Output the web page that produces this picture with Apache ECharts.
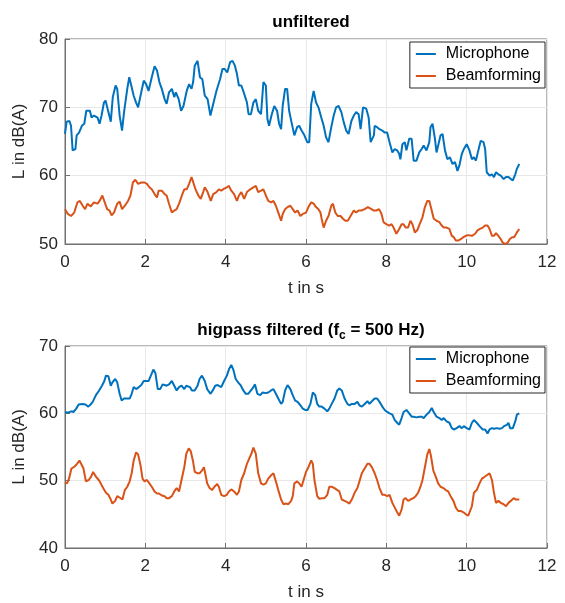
<!DOCTYPE html>
<html>
<head>
<meta charset="UTF-8">
<title>unfiltered-vs-highpass</title>
<script src="https://cdn.jsdelivr.net/npm/echarts@6/dist/echarts.min.js"></script>
<style type="text/css">
html, body { margin: 0; padding: 0; background: #fff; }
#main { width: 565px; height: 603px; }
</style>
</head>
<body>
<div id="main"></div>
<script type="text/javascript">
// x ticks
var xTicks = [0, 2, 4, 6, 8, 10, 12];

// unfiltered, microphone [t in s, L in dB(A)]
var micTop = [[0,66.1],[0.04,67.9],[0.11,68.0],[0.15,67.3],[0.19,63.7],[0.26,63.9],[0.29,65.9],[0.35,66.3],[0.42,67.3],[0.48,67.6],
[0.53,69.5],[0.62,69.5],[0.66,68.5],[0.72,68.8],[0.81,68.5],[0.86,67.6],[0.91,68.8],[0.97,70.7],[1.01,71.0],[1.08,69.3],
[1.14,67.9],[1.19,71.5],[1.26,73.2],[1.30,72.7],[1.36,68.8],[1.42,66.6],[1.47,69.3],[1.55,72.7],[1.60,74.4],[1.65,73.2],
[1.71,71.7],[1.77,70.7],[1.82,70.0],[1.88,71.7],[1.96,73.9],[2.02,73.4],[2.08,72.4],[2.16,74.4],[2.23,76.0],[2.29,75.4],
[2.35,73.7],[2.41,72.7],[2.48,71.2],[2.53,70.5],[2.59,72.2],[2.66,72.7],[2.72,71.5],[2.76,72.2],[2.83,71.2],[2.89,69.5],
[2.95,70.2],[3.03,72.4],[3.09,73.4],[3.15,72.7],[3.19,73.7],[3.23,76.1],[3.30,76.8],[3.36,74.4],[3.42,74.1],[3.48,71.7],
[3.55,71.2],[3.62,68.8],[3.69,70.5],[3.77,72.4],[3.86,74.1],[3.92,75.6],[3.98,75.6],[4.04,75.1],[4.11,76.6],[4.17,76.8],
[4.23,76.1],[4.28,74.9],[4.33,73.2],[4.39,73.2],[4.46,72.0],[4.53,70.7],[4.57,69.0],[4.63,69.0],[4.69,70.7],[4.75,71.2],
[4.81,69.5],[4.88,69.0],[4.94,73.7],[5.0,73.2],[5.04,68.3],[5.08,67.3],[5.14,68.8],[5.21,70.2],[5.28,69.5],[5.33,67.6],
[5.38,66.8],[5.42,70.2],[5.48,72.7],[5.53,72.7],[5.58,69.5],[5.64,67.8],[5.71,65.9],[5.78,67.1],[5.83,67.3],[5.89,66.6],
[5.96,65.9],[6.03,64.9],[6.08,64.9],[6.13,70.5],[6.19,72.4],[6.25,70.7],[6.31,70.0],[6.38,68.5],[6.44,67.3],[6.5,65.6],
[6.56,64.9],[6.63,67.1],[6.69,68.8],[6.75,70.0],[6.81,70.2],[6.88,69.3],[6.94,67.8],[7.0,66.6],[7.06,66.1],[7.13,68.0],
[7.19,68.8],[7.25,69.3],[7.31,69.0],[7.36,66.8],[7.42,70.0],[7.5,69.8],[7.56,68.5],[7.61,64.9],[7.69,65.9],[7.71,67.3],
[7.77,67.1],[7.83,66.8],[7.9,66.6],[7.96,66.3],[8.02,66.3],[8.08,64.9],[8.15,63.4],[8.21,63.9],[8.27,63.7],[8.32,63.2],
[8.35,62.4],[8.4,64.6],[8.46,64.9],[8.5,63.7],[8.57,65.4],[8.63,65.4],[8.68,62.2],[8.75,62.2],[8.82,63.4],[8.88,63.9],
[8.93,64.4],[9.0,63.7],[9.07,64.9],[9.1,67.1],[9.15,67.6],[9.21,65.4],[9.25,63.4],[9.29,63.4],[9.35,65.9],[9.4,66.1],
[9.46,63.7],[9.52,62.4],[9.58,62.7],[9.65,61.7],[9.71,62.0],[9.77,60.7],[9.82,61.5],[9.88,63.2],[9.93,63.9],[10.0,64.6],
[10.07,63.7],[10.13,62.4],[10.18,62.7],[10.23,62.2],[10.29,63.7],[10.35,65.1],[10.42,64.9],[10.46,63.9],[10.5,60.5],[10.57,60.0],
[10.63,60.2],[10.68,59.8],[10.73,60.5],[10.79,60.2],[10.85,60.0],[10.92,59.5],[10.98,59.8],[11.04,59.8],[11.1,59.5],[11.15,59.3],
[11.21,60.2],[11.25,61.0],[11.31,61.7]];

// unfiltered, beamforming
var beamTop = [[0,55.1],[0.07,54.4],[0.15,54.1],[0.23,54.6],[0.31,56.1],[0.37,56.3],[0.44,55.6],[0.5,55.1],[0.56,55.9],[0.64,55.5],
[0.72,56.1],[0.81,55.9],[0.86,56.3],[0.93,57.1],[1.0,55.9],[1.05,55.1],[1.11,54.9],[1.16,54.2],[1.22,54.6],[1.3,55.9],
[1.36,56.2],[1.42,55.1],[1.49,55.6],[1.57,56.3],[1.63,57.1],[1.69,59.0],[1.75,59.4],[1.82,58.8],[1.9,59.0],[1.98,59.0],
[2.04,58.8],[2.1,58.3],[2.16,58.0],[2.23,57.3],[2.29,56.8],[2.33,57.8],[2.41,57.8],[2.48,57.3],[2.53,57.1],[2.59,55.9],
[2.66,54.6],[2.72,54.9],[2.78,55.1],[2.84,55.9],[2.91,57.1],[2.97,58.0],[3.03,58.0],[3.09,58.8],[3.15,59.8],[3.19,59.6],
[3.25,58.0],[3.32,57.1],[3.38,56.6],[3.44,57.6],[3.48,58.3],[3.55,57.6],[3.63,56.3],[3.69,57.3],[3.77,57.6],[3.83,58.0],
[3.89,57.8],[3.96,58.1],[4.03,58.3],[4.08,58.5],[4.14,57.8],[4.21,57.3],[4.28,56.3],[4.33,57.1],[4.39,57.6],[4.46,56.6],
[4.53,57.6],[4.61,58.0],[4.69,58.3],[4.75,58.5],[4.81,57.6],[4.88,57.8],[4.94,58.0],[5.0,57.1],[5.06,56.3],[5.13,56.1],
[5.19,56.3],[5.25,55.6],[5.31,54.6],[5.38,53.4],[5.42,54.4],[5.48,55.1],[5.54,55.4],[5.61,55.6],[5.67,55.1],[5.73,54.6],
[5.79,54.9],[5.86,54.1],[5.92,54.4],[6.0,54.6],[6.06,55.4],[6.13,56.1],[6.19,55.9],[6.25,55.4],[6.31,55.1],[6.36,54.6],
[6.39,53.7],[6.44,52.4],[6.5,53.4],[6.56,54.1],[6.63,55.6],[6.67,55.9],[6.73,54.6],[6.79,54.1],[6.86,54.1],[6.92,53.7],
[6.98,53.4],[7.04,53.4],[7.11,54.1],[7.19,54.9],[7.25,54.6],[7.31,54.9],[7.38,54.9],[7.46,55.1],[7.54,55.4],[7.63,55.1],
[7.69,54.9],[7.75,54.9],[7.82,55.1],[7.88,54.4],[7.93,53.2],[8.0,52.9],[8.07,52.7],[8.13,52.9],[8.18,52.4],[8.25,51.5],
[8.32,52.2],[8.38,52.9],[8.43,52.9],[8.48,52.4],[8.54,52.4],[8.6,53.4],[8.65,52.9],[8.71,51.7],[8.77,52.0],[8.83,52.9],
[8.9,53.9],[8.96,55.4],[9.02,56.3],[9.07,56.3],[9.13,54.9],[9.18,53.7],[9.25,53.4],[9.32,53.2],[9.38,52.7],[9.43,52.4],
[9.5,52.4],[9.57,52.2],[9.63,51.2],[9.68,51.0],[9.73,50.5],[9.79,50.5],[9.85,50.7],[9.92,51.0],[9.98,51.2],[10.04,51.3],
[10.13,51.2],[10.21,51.5],[10.27,52.0],[10.33,52.2],[10.4,52.4],[10.46,52.7],[10.52,52.7],[10.57,52.2],[10.63,51.2],[10.68,51.2],
[10.73,51.6],[10.79,51.2],[10.85,50.7],[10.9,50.2],[10.96,50.0],[11.02,50.2],[11.07,50.7],[11.13,51.0],[11.18,51.0],[11.25,51.7],
[11.31,52.2]];

// highpass filtered, microphone
var micBot = [[0,60.2],[0.07,60.1],[0.16,60.3],[0.21,60.2],[0.28,60.7],[0.34,61.3],[0.43,61.4],[0.51,61.3],[0.57,61.0],[0.62,61.2],
[0.69,61.7],[0.77,62.7],[0.85,63.4],[0.92,64.1],[0.98,64.8],[1.02,65.6],[1.08,65.5],[1.14,64.1],[1.18,64.6],[1.25,65.1],
[1.3,64.6],[1.36,62.9],[1.41,61.9],[1.47,62.2],[1.55,62.2],[1.61,62.2],[1.66,62.9],[1.71,63.9],[1.77,63.6],[1.84,63.9],
[1.9,64.2],[1.96,64.8],[2.02,64.8],[2.08,64.8],[2.15,65.8],[2.2,66.5],[2.25,66.0],[2.31,63.6],[2.37,63.6],[2.43,64.3],
[2.48,64.2],[2.53,64.1],[2.59,64.3],[2.66,64.8],[2.72,64.1],[2.78,63.4],[2.84,63.9],[2.9,64.1],[2.97,63.6],[3.02,64.1],
[3.11,63.9],[3.16,63.4],[3.23,63.4],[3.3,64.1],[3.35,65.1],[3.41,65.6],[3.48,64.8],[3.54,63.6],[3.62,62.9],[3.68,63.4],
[3.74,64.1],[3.8,64.2],[3.83,64.3],[3.89,63.9],[3.96,64.8],[4.03,65.6],[4.08,66.5],[4.14,67.2],[4.19,66.5],[4.25,65.1],
[4.31,64.6],[4.38,64.1],[4.44,63.4],[4.5,62.9],[4.56,62.9],[4.63,63.4],[4.69,63.9],[4.73,64.3],[4.79,62.9],[4.86,62.7],
[4.92,63.1],[5.0,63.0],[5.06,63.1],[5.13,63.4],[5.19,63.6],[5.25,62.9],[5.31,62.2],[5.38,61.4],[5.42,61.7],[5.48,63.4],
[5.54,64.2],[5.61,63.6],[5.67,62.7],[5.73,61.9],[5.79,61.7],[5.86,61.2],[5.92,60.7],[5.98,60.5],[6.04,60.5],[6.11,61.4],
[6.17,63.1],[6.23,62.7],[6.28,61.4],[6.33,61.0],[6.39,61.0],[6.46,60.7],[6.53,60.3],[6.58,60.7],[6.64,61.4],[6.71,62.2],
[6.78,63.4],[6.83,63.7],[6.89,63.4],[6.96,62.2],[7.03,61.4],[7.08,61.2],[7.14,61.4],[7.21,61.4],[7.28,61.7],[7.33,61.2],
[7.39,61.0],[7.46,61.4],[7.53,61.8],[7.58,61.4],[7.64,61.8],[7.71,62.2],[7.77,62.2],[7.83,61.7],[7.9,61.0],[7.96,60.5],
[8.02,60.2],[8.08,60.0],[8.15,59.8],[8.21,59.0],[8.27,58.6],[8.32,58.3],[8.38,59.3],[8.43,60.2],[8.5,60.5],[8.57,60.0],
[8.63,59.5],[8.68,59.5],[8.75,59.4],[8.82,59.5],[8.88,59.5],[8.93,59.3],[9.0,59.8],[9.07,60.2],[9.13,60.8],[9.18,60.2],
[9.25,59.5],[9.32,59.3],[9.38,59.0],[9.43,59.3],[9.5,58.8],[9.57,58.6],[9.63,57.8],[9.68,57.6],[9.75,57.8],[9.82,58.1],
[9.88,57.8],[9.93,58.1],[10.0,57.8],[10.07,57.6],[10.13,58.6],[10.18,59.0],[10.25,58.6],[10.32,58.1],[10.4,57.6],[10.46,57.6],
[10.52,57.0],[10.57,57.6],[10.63,57.8],[10.68,57.7],[10.75,57.8],[10.82,57.7],[10.88,57.8],[10.93,58.1],[11.0,58.3],[11.04,58.6],
[11.08,57.8],[11.15,57.8],[11.21,58.8],[11.25,59.8],[11.31,60.0]];

// highpass filtered, beamforming
var beamBot = [[0,49.7],[0.05,49.6],[0.1,50.3],[0.16,51.8],[0.24,52.1],[0.3,52.5],[0.36,53.0],[0.4,52.8],[0.46,51.8],[0.52,49.9],
[0.59,50.1],[0.65,50.6],[0.7,51.3],[0.77,50.6],[0.84,50.1],[0.89,49.6],[0.95,48.9],[1.02,48.2],[1.08,47.9],[1.14,47.2],
[1.18,46.6],[1.25,47.0],[1.3,47.7],[1.36,47.5],[1.43,47.2],[1.49,48.6],[1.55,49.1],[1.61,49.9],[1.66,51.1],[1.71,53.0],
[1.77,54.2],[1.82,53.9],[1.88,52.3],[1.93,50.3],[1.98,49.9],[2.04,50.1],[2.1,49.6],[2.16,49.1],[2.23,48.4],[2.29,48.1],
[2.34,48.1],[2.41,47.8],[2.48,47.7],[2.53,47.4],[2.59,47.4],[2.66,47.7],[2.72,48.4],[2.78,48.9],[2.84,48.4],[2.9,50.1],
[2.97,52.0],[3.02,54.0],[3.08,54.8],[3.13,54.4],[3.19,52.8],[3.23,51.3],[3.3,51.1],[3.35,51.1],[3.41,51.5],[3.46,52.0],
[3.49,51.1],[3.54,49.6],[3.6,48.9],[3.66,48.6],[3.72,49.1],[3.79,49.5],[3.83,49.1],[3.89,47.9],[3.96,47.7],[4.03,47.9],
[4.08,48.4],[4.14,48.7],[4.21,48.4],[4.28,47.9],[4.33,48.4],[4.39,50.1],[4.46,51.1],[4.53,52.5],[4.58,53.2],[4.64,54.0],
[4.69,54.9],[4.75,54.0],[4.81,51.1],[4.88,49.6],[4.94,49.4],[5.0,49.6],[5.06,50.3],[5.13,50.8],[5.19,51.1],[5.25,49.9],
[5.31,48.6],[5.38,47.2],[5.44,46.5],[5.5,46.6],[5.56,46.5],[5.63,47.0],[5.67,47.7],[5.71,49.6],[5.78,49.9],[5.83,49.6],
[5.89,49.1],[5.94,50.1],[6.0,51.3],[6.06,52.0],[6.13,53.0],[6.17,52.5],[6.21,50.1],[6.28,47.7],[6.33,47.3],[6.39,47.4],
[6.46,47.4],[6.53,47.9],[6.58,49.1],[6.64,49.1],[6.71,48.9],[6.78,48.6],[6.83,48.4],[6.89,47.2],[6.96,47.0],[7.03,46.8],
[7.08,46.6],[7.14,47.2],[7.21,48.2],[7.28,48.9],[7.33,49.9],[7.39,51.1],[7.46,51.8],[7.53,52.5],[7.58,52.5],[7.64,52.0],
[7.71,51.1],[7.77,50.1],[7.83,48.9],[7.9,47.9],[7.96,47.9],[8.02,47.7],[8.08,47.9],[8.15,46.7],[8.21,46.0],[8.27,45.3],
[8.32,44.8],[8.38,45.7],[8.43,47.2],[8.48,47.4],[8.54,47.0],[8.6,47.2],[8.67,47.4],[8.73,47.7],[8.79,48.2],[8.85,49.1],
[8.9,50.1],[8.96,52.0],[9.02,53.9],[9.07,54.7],[9.11,53.7],[9.17,51.5],[9.23,50.6],[9.29,49.6],[9.35,49.1],[9.42,48.9],
[9.48,48.6],[9.54,48.4],[9.6,47.7],[9.67,47.0],[9.73,46.0],[9.79,45.5],[9.85,45.5],[9.92,45.3],[9.98,45.0],[10.04,44.8],
[10.08,45.0],[10.13,46.2],[10.18,48.2],[10.25,48.6],[10.32,49.6],[10.38,50.3],[10.43,50.5],[10.5,50.8],[10.57,51.1],[10.63,50.1],
[10.68,48.2],[10.73,46.7],[10.79,47.0],[10.85,46.7],[10.92,46.5],[10.98,46.2],[11.04,46.7],[11.1,47.0],[11.17,47.4],[11.23,47.2],
[11.31,47.2]];

var seriesNames = ['Microphone', 'Beamforming'];
var lineColors = ['#0072BD', '#D95319'];

var fontFamily = 'Liberation Sans, Arial, Helvetica, sans-serif';
var txtColor = '#262626';

/* one x axis per plot */
function makeX(idx) {
	return {
		gridIndex: idx,
		type: 'value',
		min: xTicks[0],
		max: xTicks[xTicks.length - 1],
		interval: 2,
		name: 't in s',
		nameLocation: 'middle',
		nameGap: 36,
		nameTextStyle: { color: txtColor, fontSize: 17, fontFamily: fontFamily },
		axisLine: { show: true, lineStyle: { color: '#707070', width: 1 } },
		axisTick: { show: true, inside: true, length: 5, lineStyle: { color: '#707070' } },
		axisLabel: { color: txtColor, fontSize: 17, fontFamily: fontFamily, margin: 10 },
		splitLine: { show: true, lineStyle: { color: '#e8e8e8', width: 1 } }
	};
}
function makeY(idx, lo, hi) {
	return {
		gridIndex: idx,
		type: 'value',
		min: lo,
		max: hi,
		interval: 10,
		name: 'L in dB(A)',
		nameLocation: 'middle',
		nameGap: 33,
		nameTextStyle: { color: txtColor, fontSize: 17, fontFamily: fontFamily },
		axisLine: { show: true, lineStyle: { color: '#707070', width: 1 } },
		axisTick: { show: true, inside: true, length: 5, lineStyle: { color: '#707070' } },
		axisLabel: { color: txtColor, fontSize: 17, fontFamily: fontFamily, margin: 7 },
		splitLine: { show: true, lineStyle: { color: '#e8e8e8', width: 1 } }
	};
}
function makeLine(name, data, idx, color) {
	return {
		name: name,
		type: 'line',
		xAxisIndex: idx,
		yAxisIndex: idx,
		data: data,
		showSymbol: false,
		symbol: 'none',
		smooth: false,
		animation: false,
		lineStyle: { color: color, width: 2 },
		itemStyle: { color: color }
	};
}
function makeLegend(top) {
	return {
		data: seriesNames,
		orient: 'vertical',
		right: 20,
		top: top,
		icon: 'path://M0,0 L30,0 L30,3 L0,3 Z',
		itemWidth: 30,
		itemHeight: 2,
		itemGap: 6,
		padding: [4, 4, 4, 6],
		borderColor: '#262626',
		borderWidth: 1,
		backgroundColor: '#fff',
		selectedMode: false,
		textStyle: { color: '#000', fontSize: 16, fontFamily: fontFamily }
	};
}

var myChart = echarts.init(document.getElementById('main'), null, { renderer: 'canvas' });

var option = {
	backgroundColor: '#fff',
	animation: false,
	title: [{
		text: 'unfiltered',
		left: 306, top: 9, textAlign: 'center',
		textStyle: { color: '#000', fontSize: 17, fontWeight: 'bold', fontFamily: fontFamily }
	}, {
		text: 'higpass filtered (f{c|c} = 500 Hz)',
		left: 306, top: 313, textAlign: 'center',
		textStyle: {
			color: '#000', fontSize: 17, fontWeight: 'bold', fontFamily: fontFamily,
			rich: { c: { fontSize: 12, fontWeight: 'bold', color: '#000', fontFamily: fontFamily, padding: [12, 0, 0, 0] } }
		}
	}],
	grid: [
		{ left: 65, right: 18, top: 39, height: 205, show: true, borderColor: '#707070', borderWidth: 1, backgroundColor: 'transparent' },
		{ left: 65, right: 18, top: 346, height: 202, show: true, borderColor: '#707070', borderWidth: 1, backgroundColor: 'transparent' }
	],
	xAxis: [makeX(0), makeX(1)],
	yAxis: [makeY(0, 50, 80), makeY(1, 40, 70)],
	legend: [makeLegend(42), makeLegend(347)],
	series: [
		makeLine(seriesNames[0], micTop, 0, lineColors[0]),
		makeLine(seriesNames[1], beamTop, 0, lineColors[1]),
		makeLine(seriesNames[0], micBot, 1, lineColors[0]),
		makeLine(seriesNames[1], beamBot, 1, lineColors[1])
	]
};

myChart.setOption(option);
</script>
</body>
</html>
